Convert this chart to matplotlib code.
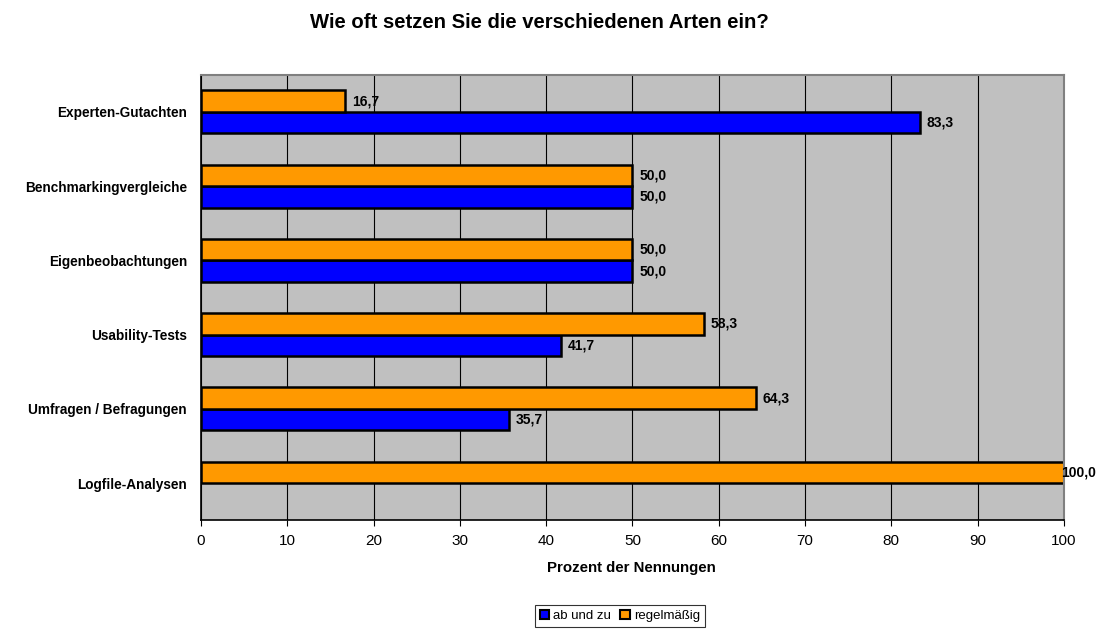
import numpy as np
import matplotlib
matplotlib.use("Agg")
from matplotlib import pyplot as plt
from matplotlib.patches import Patch

categories = ["Logfile-Analysen", "Umfragen / Befragungen", "Usability-Tests",
              "Eigenbeobachtungen", "Benchmarkingvergleiche", "Experten-Gutachten"]
ab_und_zu = [0.0, 35.7, 41.7, 50.0, 50.0, 83.3]
regelmaessig = [100.0, 64.3, 58.3, 50.0, 50.0, 16.7]

plt.rcParams['font.family'] = ['Liberation Sans', 'DejaVu Sans']

fig = plt.figure(figsize=(10.98, 6.29), dpi=100)
ax = fig.add_axes([0.183, 0.173, 0.786, 0.708])
ax.set_facecolor('#C0C0C0')

y = np.arange(len(categories))
h = 0.29
b1 = ax.barh(y - h/2, ab_und_zu, h, color='#0000FF', edgecolor='black', lw=1.8)
b2 = ax.barh(y + h/2, regelmaessig, h, color='#FF9900', edgecolor='black', lw=1.8)

for bars, vals in ((b1, ab_und_zu), (b2, regelmaessig)):
    for r, v in zip(bars, vals):
        if v == 0:
            r.set_linewidth(0)
            continue
        ax.annotate(f"{v:.1f}".replace('.', ','), (v, r.get_y() + r.get_height()/2),
                    xytext=(5 if v < 100 else -2, 0), textcoords='offset points',
                    va='center', ha='left', fontsize=10, fontweight='bold')

ax.set_xlim(0, 100)
ax.set_ylim(-0.5, 5.5)
ax.set_xticks(np.arange(0, 101, 10))
ax.set_yticks(y)
ax.set_yticklabels(categories, fontsize=9.8, fontweight='bold')
ax.tick_params(axis='y', length=0, pad=10)
ax.tick_params(axis='x', labelsize=11, direction='out', length=4, pad=6)
ax.xaxis.grid(True, color='black', lw=0.8)
ax.set_axisbelow(True)
for s in ('top', 'right'):
    ax.spines[s].set_color('#808080')
    ax.spines[s].set_linewidth(1.5)
ax.spines['left'].set_linewidth(1.2)
ax.spines['bottom'].set_linewidth(1.2)

fig.text(0.575, 1 - 568/629, "Prozent der Nennungen", fontsize=10.8, fontweight='bold',
         ha='center', va='center')
fig.text(539/1098, 1 - 23/629, "Wie oft setzen Sie die verschiedenen Arten ein?",
         fontsize=14.6, fontweight='bold', ha='center', va='center')

handles = [Patch(facecolor='#0000FF', edgecolor='black', lw=1.5, label='ab und zu'),
           Patch(facecolor='#FF9900', edgecolor='black', lw=1.5, label='regelmäßig')]
leg = fig.legend(handles=handles, loc='center', bbox_to_anchor=(620/1098, 1 - 616/629),
                 ncol=2, fontsize=9.5, frameon=True, fancybox=False,
                 handlelength=0.75, handleheight=0.75, handletextpad=0.3,
                 columnspacing=0.7, borderpad=0.35)
leg.get_frame().set_edgecolor('black')
leg.get_frame().set_linewidth(0.8)

fig.savefig("out.png", dpi=100)
